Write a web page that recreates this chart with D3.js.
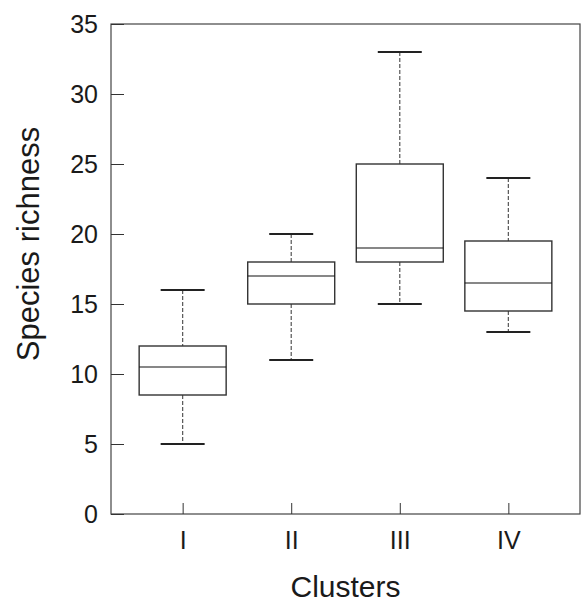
<!DOCTYPE html>
<html>
<head>
<meta charset="utf-8">
<script src="https://cdn.jsdelivr.net/npm/d3@7"></script>
<style>
  body { margin: 0; background: #fff; }
  text { font-family: "Liberation Sans", Arial, sans-serif; fill: #1a1a1a; }
</style>
</head>
<body>
<div id="chart"></div>
<script>
// box plot values
var clusters = ["I", "II", "III", "IV"];
var mins     = [5, 11, 15, 13];
var q1s      = [8.5, 15, 18, 14.5];
var medians  = [10.5, 17, 19, 16.5];
var q3s      = [12, 18, 25, 19.5];
var maxs     = [16, 20, 33, 24];
var yTicks   = [0, 5, 10, 15, 20, 25, 30, 35];

var W = 581, H = 602;
var margin = {top: 24, right: 1, bottom: 88, left: 111},
    width = W - margin.left - margin.right,
    height = H - margin.top - margin.bottom;

var svg = d3.select("#chart")
  .append("svg")
    .attr("width", W)
    .attr("height", H)
  .append("g")
    .attr("transform", "translate(" + margin.left + "," + margin.top + ")");

var data = clusters.map(function(c, i) {
  return {name: c, min: mins[i], q1: q1s[i], med: medians[i], q3: q3s[i], max: maxs[i]};
});

var x = d3.scalePoint()
  .domain(clusters)
  .range([0, width])
  .padding(0.66);

var y = d3.scaleLinear()
  .domain([0, 35])
  .range([height, 0]);

var boxW = 87, capW = 44;

// frame
svg.append("rect")
  .attr("x", 0).attr("y", 0)
  .attr("width", width).attr("height", height)
  .style("fill", "none")
  .style("stroke", "#444")
  .style("stroke-width", 1.2);

// y axis, ticks pointing in
var yAxis = svg.append("g")
  .call(d3.axisLeft(y).tickValues(yTicks).tickSize(-13).tickPadding(13));
yAxis.select(".domain").remove();
yAxis.selectAll("line").style("stroke", "#333");
yAxis.selectAll("text")
  .style("font-size", "25px")
  .style("font-family", "'Liberation Sans', Arial, sans-serif")
  .style("fill", "#1a1a1a");

// x axis
var xAxis = svg.append("g")
  .attr("transform", "translate(0," + height + ")")
  .call(d3.axisBottom(x).tickSize(-11).tickPadding(17));
xAxis.select(".domain").remove();
xAxis.selectAll("line").style("stroke", "#333");
xAxis.selectAll("text")
  .style("font-size", "25px")
  .style("font-family", "'Liberation Sans', Arial, sans-serif")
  .style("fill", "#1a1a1a");

var g = svg.selectAll(".box")
  .data(data)
  .enter().append("g")
    .attr("class", "box");

// whiskers
g.append("line")
  .attr("x1", function(d) { return x(d.name); })
  .attr("x2", function(d) { return x(d.name); })
  .attr("y1", function(d) { return y(d.max); })
  .attr("y2", function(d) { return y(d.q3); })
  .style("stroke", "#555")
  .style("stroke-width", 1.2)
  .style("stroke-dasharray", "4,2");
g.append("line")
  .attr("x1", function(d) { return x(d.name); })
  .attr("x2", function(d) { return x(d.name); })
  .attr("y1", function(d) { return y(d.q1); })
  .attr("y2", function(d) { return y(d.min); })
  .style("stroke", "#555")
  .style("stroke-width", 1.2)
  .style("stroke-dasharray", "4,2");

// caps
["min", "max"].forEach(function(k) {
  g.append("line")
    .attr("x1", function(d) { return x(d.name) - capW / 2; })
    .attr("x2", function(d) { return x(d.name) + capW / 2; })
    .attr("y1", function(d) { return y(d[k]); })
    .attr("y2", function(d) { return y(d[k]); })
    .style("stroke", "#222")
    .style("stroke-width", 2);
});

// boxes
g.append("rect")
  .attr("x", function(d) { return x(d.name) - boxW / 2; })
  .attr("y", function(d) { return y(d.q3); })
  .attr("width", boxW)
  .attr("height", function(d) { return y(d.q1) - y(d.q3); })
  .style("fill", "#fff")
  .style("stroke", "#333")
  .style("stroke-width", 1.4);

// medians
g.append("line")
  .attr("x1", function(d) { return x(d.name) - boxW / 2; })
  .attr("x2", function(d) { return x(d.name) + boxW / 2; })
  .attr("y1", function(d) { return y(d.med); })
  .attr("y2", function(d) { return y(d.med); })
  .style("stroke", "#111")
  .style("stroke-width", 1.2);

// axis titles
svg.append("text")
  .attr("x", width / 2)
  .attr("y", height + 83)
  .style("text-anchor", "middle")
  .style("font-size", "30px")
  .text("Clusters");

svg.append("text")
  .attr("transform", "rotate(-90)")
  .attr("x", -(244 - margin.top))
  .attr("y", 39 - margin.left)
  .style("text-anchor", "middle")
  .style("font-size", "31px")
  .text("Species richness");
</script>
</body>
</html>
